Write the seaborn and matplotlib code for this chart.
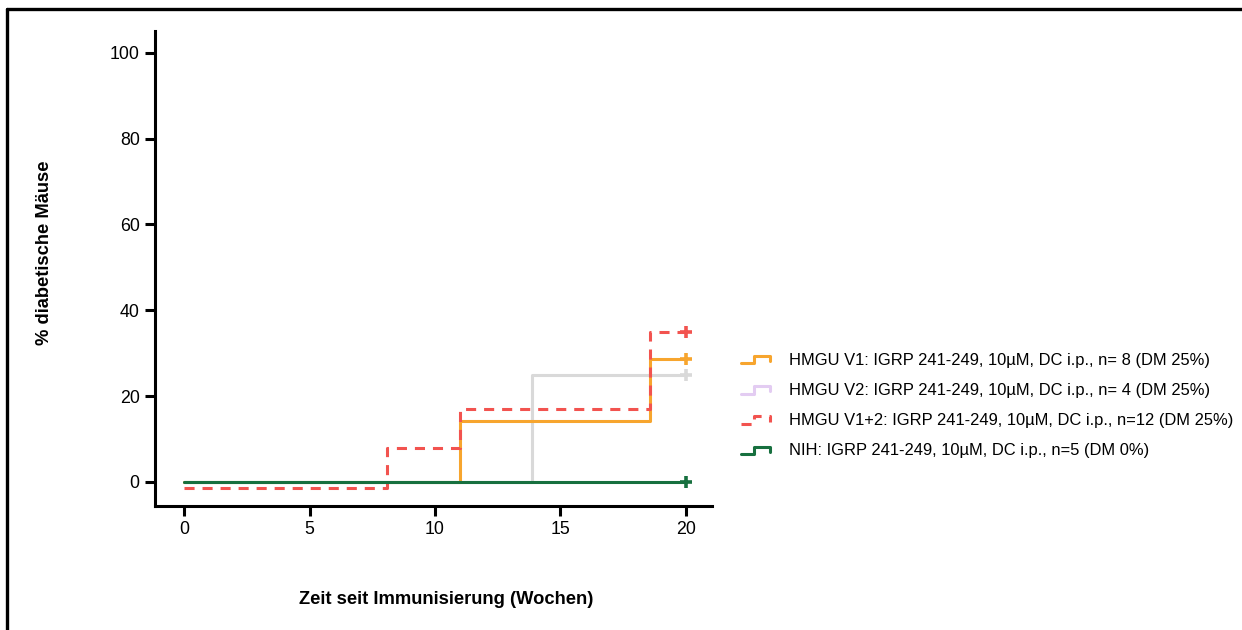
import numpy as np
import pandas as pd
import matplotlib
matplotlib.use("Agg")
import matplotlib.pyplot as plt
import seaborn as sns
from matplotlib.lines import Line2D
from matplotlib.legend_handler import HandlerBase

# ---- data ----
labels = [
    "HMGU V1: IGRP 241-249, 10µM, DC i.p., n= 8 (DM 25%)",
    "HMGU V2: IGRP 241-249, 10µM, DC i.p., n= 4 (DM 25%)",
    "HMGU V1+2: IGRP 241-249, 10µM, DC i.p., n=12 (DM 25%)",
    "NIH: IGRP 241-249, 10µM, DC i.p., n=5 (DM 0%)",
]
v1_time = [0, 11.0, 18.55, 20]
v1_pct = [0, 14.3, 28.6, 28.6]
v2_time = [0, 13.85, 20]
v2_pct = [0, 25.0, 25.0]
v12_time = [0, 8.1, 11.0, 18.55, 20]
v12_pct = [-1.3, 7.9, 17.0, 35.0, 35.0]
nih_time = [0, 20]
nih_pct = [0, 0]
x_ticks = [0, 5, 10, 15, 20]
y_ticks = [0, 20, 40, 60, 80, 100]

times = [v1_time, v2_time, v12_time, nih_time]
pcts = [v1_pct, v2_pct, v12_pct, nih_pct]

# ---- styles ----
line_colors = ["#F7A52E", "#D9D9D9", "#F2534F", "#17703F"]
legend_colors = ["#F7A52E", "#E3CCF2", "#F2534F", "#17703F"]
dashed = [False, False, True, False]

sns.set_theme(style="ticks")
plt.rcParams["font.family"] = ["Liberation Sans", "DejaVu Sans"]
plt.rcParams["text.color"] = "black"

fig = plt.figure(figsize=(12.42, 6.30), dpi=100)
ax = fig.add_axes([155/1242, 1-506/630, (712-155)/1242, (506-30.5)/630])

lw = 2.2
draw_order = [1, 0, 2, 3]
for i in draw_order:
    df = pd.DataFrame({"t": times[i], "p": pcts[i]})
    sns.lineplot(data=df, x="t", y="p", color=line_colors[i], lw=lw,
                 drawstyle="steps-post", estimator=None, sort=False, ax=ax,
                 legend=False)
    ln = ax.lines[-1]
    if dashed[i]:
        ln.set_dashes((3.3, 2.6))
    # censor mark at end
    ax.plot([times[i][-1]], [pcts[i][-1]], marker="+", ms=8, mew=2.6,
            color=line_colors[i], ls="none")

ax.set_xlim(-1.16, 21.04)
ax.set_ylim(-5.6, 105.2)
ax.set_xticks(x_ticks)
ax.set_yticks(y_ticks)
ax.tick_params(axis="both", direction="out", length=7, width=2.2,
               labelsize=12.8, color="black", labelcolor="black", pad=4)
for s in ["left", "bottom"]:
    ax.spines[s].set_linewidth(2.2)
    ax.spines[s].set_color("black")
for s in ["top", "right"]:
    ax.spines[s].set_visible(False)
ax.set_xlabel("")
ax.set_ylabel("")

fig.text(446/1242, 1-600/630, "Zeit seit Immunisierung (Wochen)", ha="center",
         va="center", fontsize=13.2, fontweight="bold", color="black")
fig.text(45/1242, 1-253/630, "% diabetische Mäuse", ha="center", va="center",
         rotation=90, fontsize=13.2, fontweight="bold", color="black")


class StepHandler(HandlerBase):
    def __init__(self, color, dashed_=False):
        super().__init__()
        self.color = color
        self.dashed = dashed_

    def create_artists(self, legend, orig_handle, xdescent, ydescent, width,
                       height, fontsize, trans):
        x0 = -xdescent
        y0 = -ydescent
        xs = [x0, x0 + 0.45 * width, x0 + 0.45 * width, x0 + width, x0 + width]
        ys = [y0 + 0.1 * height, y0 + 0.1 * height, y0 + 0.75 * height,
              y0 + 0.75 * height, y0 + 0.3 * height]
        ln = Line2D(xs, ys, color=self.color, lw=2.2, transform=trans)
        if self.dashed:
            ln.set_dashes((3.3, 2.6))
        return [ln]


handles = [Line2D([], [], color=c) for c in legend_colors]
hmap = {h: StepHandler(c, d) for h, c, d in zip(handles, legend_colors, dashed)}
leg = fig.legend(handles, labels, handler_map=hmap, loc="upper left",
                 bbox_to_anchor=(734/1242, 1-346/630), frameon=False,
                 fontsize=11.9, handlelength=1.75, handletextpad=1.2,
                 labelspacing=0.92, borderaxespad=0)
for t in leg.get_texts():
    t.set_color("black")

# outer frame (cropped box)
fig.add_artist(Line2D([7/1242, 1.0], [1-9/630, 1-9/630], color="black", lw=2.4,
                      transform=fig.transFigure))
fig.add_artist(Line2D([7/1242, 7/1242], [1-9/630, 0], color="black", lw=2.4,
                      transform=fig.transFigure))

fig.savefig("out.png", dpi=100)
